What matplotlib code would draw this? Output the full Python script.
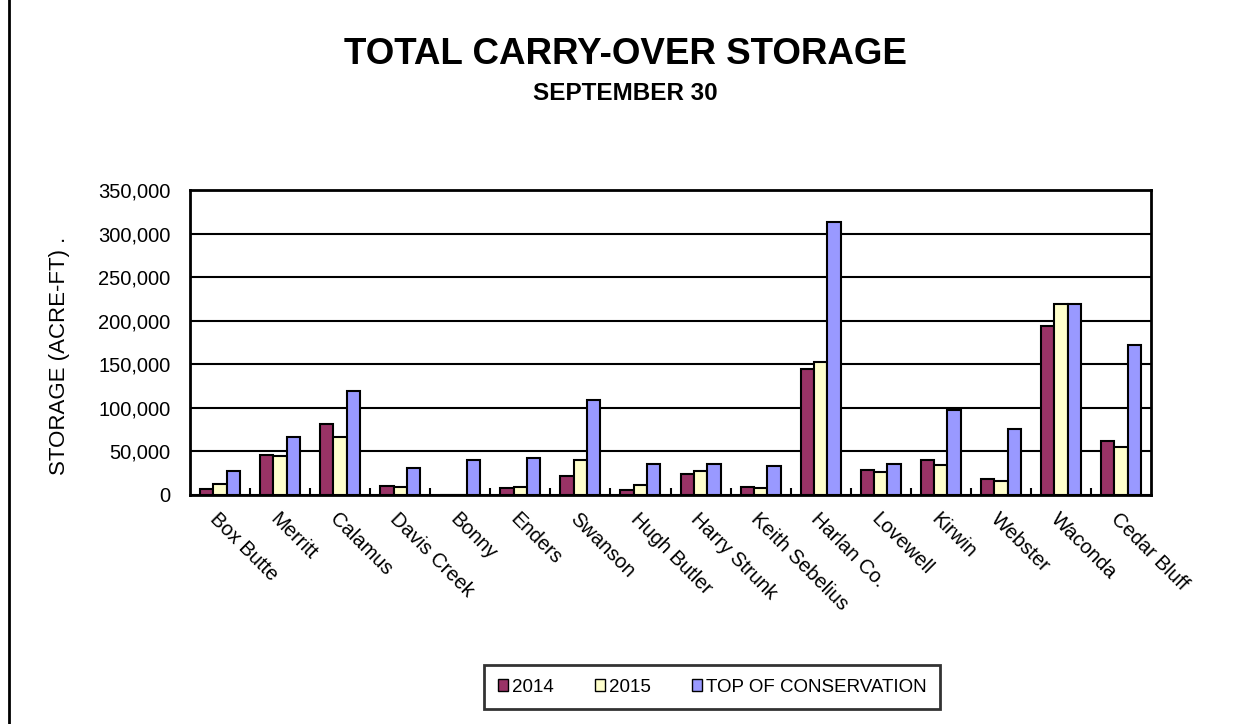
import numpy as np
import matplotlib.pyplot as plt
from matplotlib.ticker import FuncFormatter, MultipleLocator
from matplotlib.lines import Line2D

plt.rcParams['font.family'] = ['Liberation Sans', 'DejaVu Sans']

reservoirs = ['Box Butte', 'Merritt', 'Calamus', 'Davis Creek', 'Bonny', 'Enders',
              'Swanson', 'Hugh Butler', 'Harry Strunk', 'Keith Sebelius', 'Harlan Co.',
              'Lovewell', 'Kirwin', 'Webster', 'Waconda', 'Cedar Bluff']
storage_2014 = [6500, 45900, 81500, 10300, 0, 7600, 22200, 5700, 24100, 9600,
                144600, 29100, 40200, 18400, 193900, 62300]
storage_2015 = [12600, 44400, 66900, 8800, 0, 9200, 40200, 11500, 27900, 7600,
                153000, 26800, 34000, 16100, 219200, 55500]
top_conservation = [27900, 66200, 119000, 30600, 40500, 42500, 109400, 35200, 35200, 33600,
                    313600, 35200, 97500, 75300, 219200, 172100]
series_names = ['2014', '2015', 'TOP OF CONSERVATION']
colors = ['#993366', '#FFFFCC', '#9999FF']

fig = plt.figure(figsize=(12.54, 7.24), dpi=100)
ax = fig.add_axes([190/1254, 1-495/724, 961/1254, 305/724])

x = np.arange(len(reservoirs))
w = 0.222
for i, (vals, c) in enumerate(zip([storage_2014, storage_2015, top_conservation], colors)):
    ax.bar(x + (i - 1) * w, vals, width=w, color=c, edgecolor='black', linewidth=1.5, zorder=3)

ax.set_xlim(-0.5, len(reservoirs) - 0.5)
ax.set_ylim(0, 350000)
ax.yaxis.set_major_locator(MultipleLocator(50000))
ax.yaxis.set_major_formatter(FuncFormatter(lambda v, p: f'{int(v):,}'))
ax.grid(axis='y', color='black', linewidth=1.5, zorder=1)
for s in ax.spines.values():
    s.set_linewidth(2)
ax.tick_params(axis='y', length=0, labelsize=14.5, pad=14)

# category separators as inward minor ticks
ax.set_xticks(x)
ax.set_xticklabels([])
ax.tick_params(axis='x', which='major', length=0)
ax.set_xticks(np.arange(0.5, len(reservoirs) - 1, 1), minor=True)
ax.tick_params(axis='x', which='minor', direction='in', length=5, width=1.5)
for xi, name in zip(x, reservoirs):
    ax.annotate(name, xy=(xi, 0), xycoords=('data', 'axes fraction'),
                xytext=(-5, -15), textcoords='offset points',
                rotation=-45, rotation_mode='anchor', ha='left', va='center', fontsize=14.5)

fig.text(60/1254, 1-356/724, 'STORAGE (ACRE-FT) .', rotation=90, ha='center', va='center', fontsize=16)

fig.text(625/1254, 1-55/724, 'TOTAL CARRY-OVER STORAGE', ha='center', va='center',
         fontsize=26.5, fontweight='bold')
fig.text(625/1254, 1-93/724, 'SEPTEMBER 30', ha='center', va='center',
         fontsize=17.5, fontweight='bold')

# left border line
fig.add_artist(Line2D([9/1254, 9/1254], [0, 1], color='black', linewidth=2))

handles = [plt.Rectangle((0, 0), 1, 1, facecolor=c, edgecolor='black', linewidth=1) for c in colors]
leg = fig.legend(handles, series_names, loc='center', bbox_to_anchor=(712/1254, 1-687/724),
                 ncol=3, frameon=True, fancybox=False, edgecolor='black', fontsize=13.5,
                 handlelength=0.55, handleheight=0.55, handletextpad=0.2, columnspacing=2.2,
                 borderpad=0.7)
leg.get_frame().set_linewidth(2)

fig.savefig('out.png', dpi=100)
